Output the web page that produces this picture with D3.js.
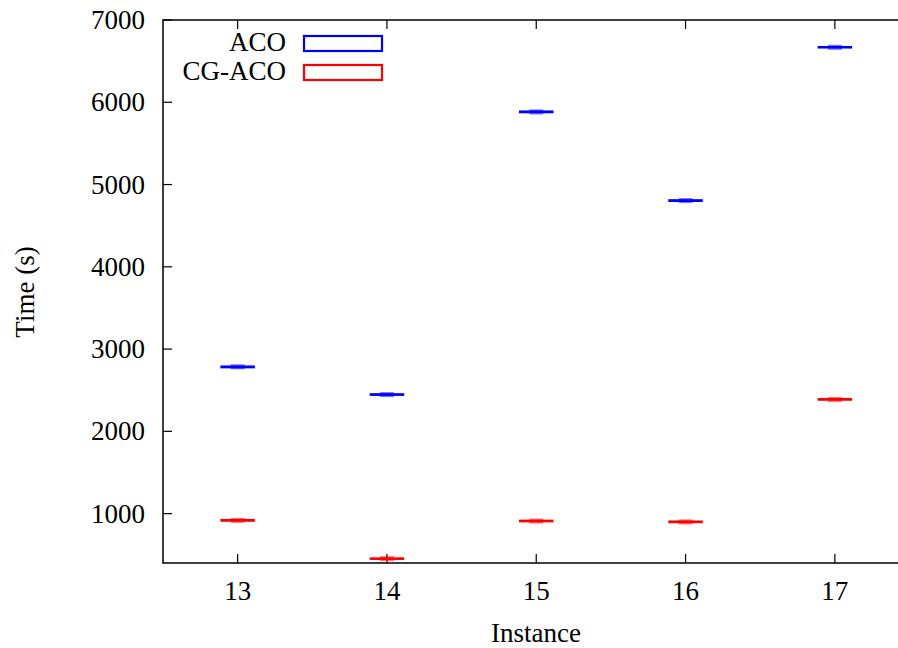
<!DOCTYPE html>
<html>
<head>
<meta charset="utf-8">
<script src="https://cdn.jsdelivr.net/npm/d3@7"></script>
<style>
  body { margin: 0; background: #fff; }
</style>
</head>
<body>
<div id="chart"></div>
<script>
// data
const instances = [13, 14, 15, 16, 17];
const acoLow  = [2775, 2440, 5875, 4797, 6662];
const acoMed  = [2785, 2447, 5883, 4805, 6668];
const acoHigh = [2792, 2455, 5892, 4813, 6675];
const cgLow   = [910, 446, 903, 893, 2381];
const cgMed   = [918, 453, 910, 900, 2388];
const cgHigh  = [926, 460, 918, 908, 2396];
const yTicks = [1000, 2000, 3000, 4000, 5000, 6000, 7000];

const width = 898, height = 648;
const margin = {top: 20, left: 163, bottom: 85};
const serif = "'Liberation Serif', 'Times New Roman', serif";

const series = [
  {name: 'ACO', color: '#0000ff', low: acoLow, med: acoMed, high: acoHigh},
  {name: 'CG-ACO', color: '#ff0000', low: cgLow, med: cgMed, high: cgHigh}
];

const svg = d3.select('#chart')
  .append('svg')
    .attr('width', width)
    .attr('height', height)
    .attr('font-family', serif)
    .attr('font-size', 27);

// scales
const x = d3.scaleLinear()
  .domain([12.5, 17.5])
  .range([margin.left, margin.left + 5 * 149.3]);
const y = d3.scaleLinear()
  .domain([400, 7000])
  .range([height - margin.bottom, margin.top]);

const plotBottom = y(400), plotTop = y(7000);

// frame (no right border, plot runs off the edge)
svg.append('path')
  .attr('d', 'M' + width + ',' + plotTop + 'H' + margin.left + 'V' + plotBottom + 'H' + width)
  .attr('fill', 'none')
  .attr('stroke', '#000')
  .attr('stroke-width', 1.5);

// y ticks, inward
const yg = svg.append('g');
yg.selectAll('line')
  .data(yTicks)
  .enter()
  .append('line')
    .attr('x1', margin.left).attr('x2', margin.left + 9)
    .attr('y1', d => y(d)).attr('y2', d => y(d))
    .attr('stroke', '#000').attr('stroke-width', 1.2);
yg.selectAll('text')
  .data(yTicks)
  .enter()
  .append('text')
    .attr('x', margin.left - 18)
    .attr('y', d => y(d) + 9)
    .attr('text-anchor', 'end')
    .text(d => d);

// x ticks, inward on bottom and top
const xg = svg.append('g');
instances.forEach(d => {
  xg.append('line')
    .attr('x1', x(d)).attr('x2', x(d))
    .attr('y1', plotBottom).attr('y2', plotBottom - 9)
    .attr('stroke', '#000').attr('stroke-width', 1.2);
  xg.append('line')
    .attr('x1', x(d)).attr('x2', x(d))
    .attr('y1', plotTop).attr('y2', plotTop + 9)
    .attr('stroke', '#000').attr('stroke-width', 1.2);
  xg.append('text')
    .attr('x', x(d))
    .attr('y', plotBottom + 37)
    .attr('text-anchor', 'middle')
    .text(d);
});

// axis titles
svg.append('text')
  .attr('x', 536)
  .attr('y', 642)
  .attr('text-anchor', 'middle')
  .text('Instance');
svg.append('text')
  .attr('transform', 'translate(34,292) rotate(-90)')
  .attr('text-anchor', 'middle')
  .text('Time (s)');

// boxes
const boxW = 33;
series.forEach(s => {
  const g = svg.append('g');
  g.selectAll('rect')
    .data(instances)
    .enter()
    .append('rect')
      .attr('x', d => x(d) - boxW / 2)
      .attr('width', boxW)
      .attr('y', (d, i) => y(s.high[i]))
      .attr('height', (d, i) => Math.max(0.5, y(s.low[i]) - y(s.high[i])))
      .attr('fill', s.color)
      .attr('stroke', s.color)
      .attr('stroke-width', 1.5);
  g.selectAll('line')
    .data(instances)
    .enter()
    .append('line')
      .attr('x1', d => x(d) - 7).attr('x2', d => x(d) + 7)
      .attr('y1', (d, i) => y(s.med[i])).attr('y2', (d, i) => y(s.med[i]))
      .attr('stroke', s.color)
      .attr('stroke-opacity', 0.55)
      .attr('stroke-width', 5);
});

// legend
const legend = svg.append('g');
series.forEach((s, i) => {
  const ly = 51 + i * 29;
  legend.append('text')
    .attr('x', 286)
    .attr('y', ly)
    .attr('text-anchor', 'end')
    .text(s.name);
  legend.append('rect')
    .attr('x', 304).attr('y', ly - 15)
    .attr('width', 78).attr('height', 15)
    .attr('fill', 'none')
    .attr('stroke', s.color)
    .attr('stroke-width', 2.2);
});
</script>
</body>
</html>
